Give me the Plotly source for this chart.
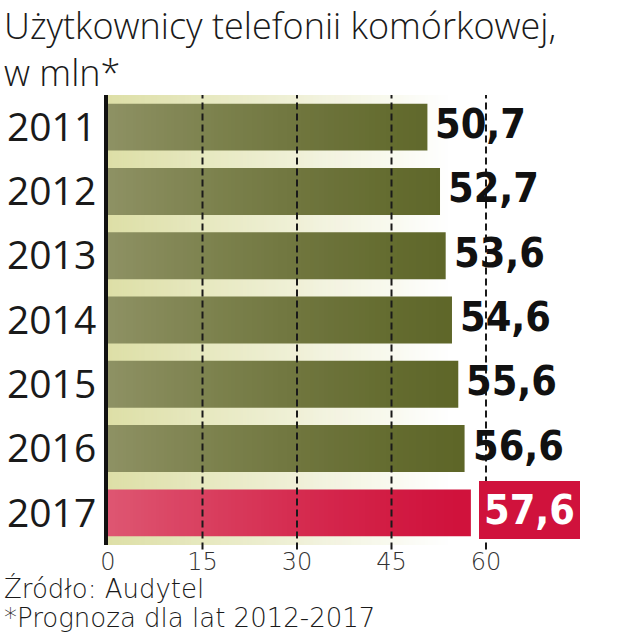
import base64
import struct
import zlib

import plotly.graph_objects as go

# ---------------- data ----------------
years = ["2011", "2012", "2013", "2014", "2015", "2016", "2017"]
users_mln = [50.7, 52.7, 53.6, 54.6, 55.6, 56.6, 57.6]
highlight = ["2017"]
tick_vals = [0, 15, 30, 45, 60]
tick_text = ["0", "15", "30", "45", "60"]
title_lines = ["Użytkownicy telefonii komórkowej,", "w mln*"]
footer_lines = ["Źródło: Audytel", "*Prognoza dla lat 2012-2017"]

# ---------------- styles ----------------
GREEN = "#5e6628"
RED = "#d0123c"
CREAM = (222, 226, 172)
W, H = 624, 640
ML, MR, MT, MB = 108, 24, 95, 95
PX_PER_UNIT = 6.3
XMAX = (W - ML - MR) / PX_PER_UNIT
BAND_END = 54.0
IMG_SPAN = 58.0
OVERLAY_END = max(users_mln)
PW = W - ML - MR
PH = H - MT - MB


def png_data_uri(rows):
    w = len(rows[0])
    h = len(rows)
    raw = b"".join(b"\x00" + bytes([c for px in row for c in px]) for row in rows)

    def chunk(tag, data):
        c = struct.pack(">I", len(data)) + tag + data
        return c + struct.pack(">I", zlib.crc32(tag + data) & 0xFFFFFFFF)

    png = b"\x89PNG\r\n\x1a\n"
    png += chunk(b"IHDR", struct.pack(">IIBBBBB", w, h, 8, 6, 0, 0, 0))
    png += chunk(b"IDAT", zlib.compress(raw, 9))
    png += chunk(b"IEND", b"")
    return "data:image/png;base64," + base64.b64encode(png).decode()


N = 240
band_row, over_row = [], []
for i in range(N):
    xv = (i + 0.5) / N * IMG_SPAN
    t = min(xv / BAND_END, 1.0)
    target = [CREAM[k] + (255 - CREAM[k]) * t for k in range(3)]
    a = 0.3 * max(0.0, 1 - xv / OVERLAY_END) ** 1.3
    under = [int(max(0, min(255, (target[k] - a * 255) / (1 - a)))) for k in range(3)]
    band_row.append(under + [255])
    over_row.append([255, 248, 240, int(round(a * 255))])

band_uri = png_data_uri([band_row])
over_uri = png_data_uri([over_row])

colors = [RED if y in highlight else GREEN for y in years]

fig = go.Figure(
    go.Bar(
        x=users_mln,
        y=years,
        orientation="h",
        marker=dict(color=colors, line=dict(width=0)),
        hoverinfo="x+y",
    )
)

LABEL_FONT = "DejaVu Sans Condensed, Liberation Sans, sans-serif"
LABEL_SIZE = 41
# value labels (y given as category index)
for i, (y, v) in enumerate(zip(years, users_mln)):
    label = f"{v:.1f}".replace(".", ",")
    if y in highlight:
        fig.add_annotation(
            x=v, y=i, xref="x", yref="y", text=label, showarrow=False,
            xanchor="left", yanchor="middle", xshift=8, yshift=3,
            font=dict(family=LABEL_FONT, size=LABEL_SIZE, color="white", weight="bold"),
            bgcolor=RED, borderpad=5, borderwidth=0,
        )
    else:
        fig.add_annotation(
            x=v, y=i, xref="x", yref="y", text=label, showarrow=False,
            xanchor="left", yanchor="middle", xshift=8, yshift=3,
            font=dict(family=LABEL_FONT, size=LABEL_SIZE, color="#111111", weight="bold"),
            borderpad=0, borderwidth=0,
        )

# dashed grid lines on top
for tv in tick_vals[1:]:
    fig.add_shape(type="line", xref="x", yref="paper", x0=tv, x1=tv, y0=-0.01, y1=1,
                  line=dict(color="#1a1a1a", width=2, dash="7px,4px"), layer="above")


def py(px_from_top):
    return (H - MB - px_from_top) / PH


def px_(px_from_left):
    return (px_from_left - ML) / PW


# title and footer
for txt, yy in zip(title_lines, [25.5, 72]):
    fig.add_annotation(x=px_(4), y=py(yy), xref="paper", yref="paper",
                       text=txt, showarrow=False, xanchor="left", yanchor="middle",
                       borderpad=0, borderwidth=0,
                       font=dict(family="Open Sans, sans-serif", size=36, color="#1a1a1a", weight=300))
for txt, yy in zip(footer_lines, [588, 618]):
    fig.add_annotation(x=px_(4), y=py(yy), xref="paper", yref="paper",
                       text=txt, showarrow=False, xanchor="left", yanchor="middle",
                       borderpad=0, borderwidth=0,
                       font=dict(family="DejaVu Sans, sans-serif", size=26, color="#1a1a1a", weight=200))

fig.update_layout(
    width=W, height=H,
    margin=dict(l=ML, r=MR, t=MT, b=MB, pad=0, autoexpand=False),
    paper_bgcolor="white", plot_bgcolor="rgba(0,0,0,0)",
    bargap=0.27, showlegend=False,
    images=[
        dict(source=band_uri, xref="x", yref="paper", x=0, y=1, sizex=IMG_SPAN, sizey=1,
             sizing="stretch", xanchor="left", yanchor="top", layer="below"),
        dict(source=over_uri, xref="x", yref="paper", x=0, y=1, sizex=IMG_SPAN, sizey=1,
             sizing="stretch", xanchor="left", yanchor="top", layer="above"),
    ],
    xaxis=dict(range=[0, XMAX], tickvals=tick_vals, ticktext=tick_text, showgrid=False,
               zeroline=False, showline=False, ticks="", fixedrange=True, automargin=False,
               tickfont=dict(family="DejaVu Sans, sans-serif", size=24, color="#333333", weight=200)),
    yaxis=dict(type="category", categoryorder="array", categoryarray=years,
               range=[len(years) - 0.5, -0.5], showgrid=False, zeroline=False,
               showline=True, linecolor="#111111", linewidth=4, layer="above traces",
               ticks="", ticklabelstandoff=0, automargin=False,
               tickfont=dict(family="Open Sans, sans-serif", size=39, color="#1a1a1a", weight=500)),
)

fig.write_html("out.html")
